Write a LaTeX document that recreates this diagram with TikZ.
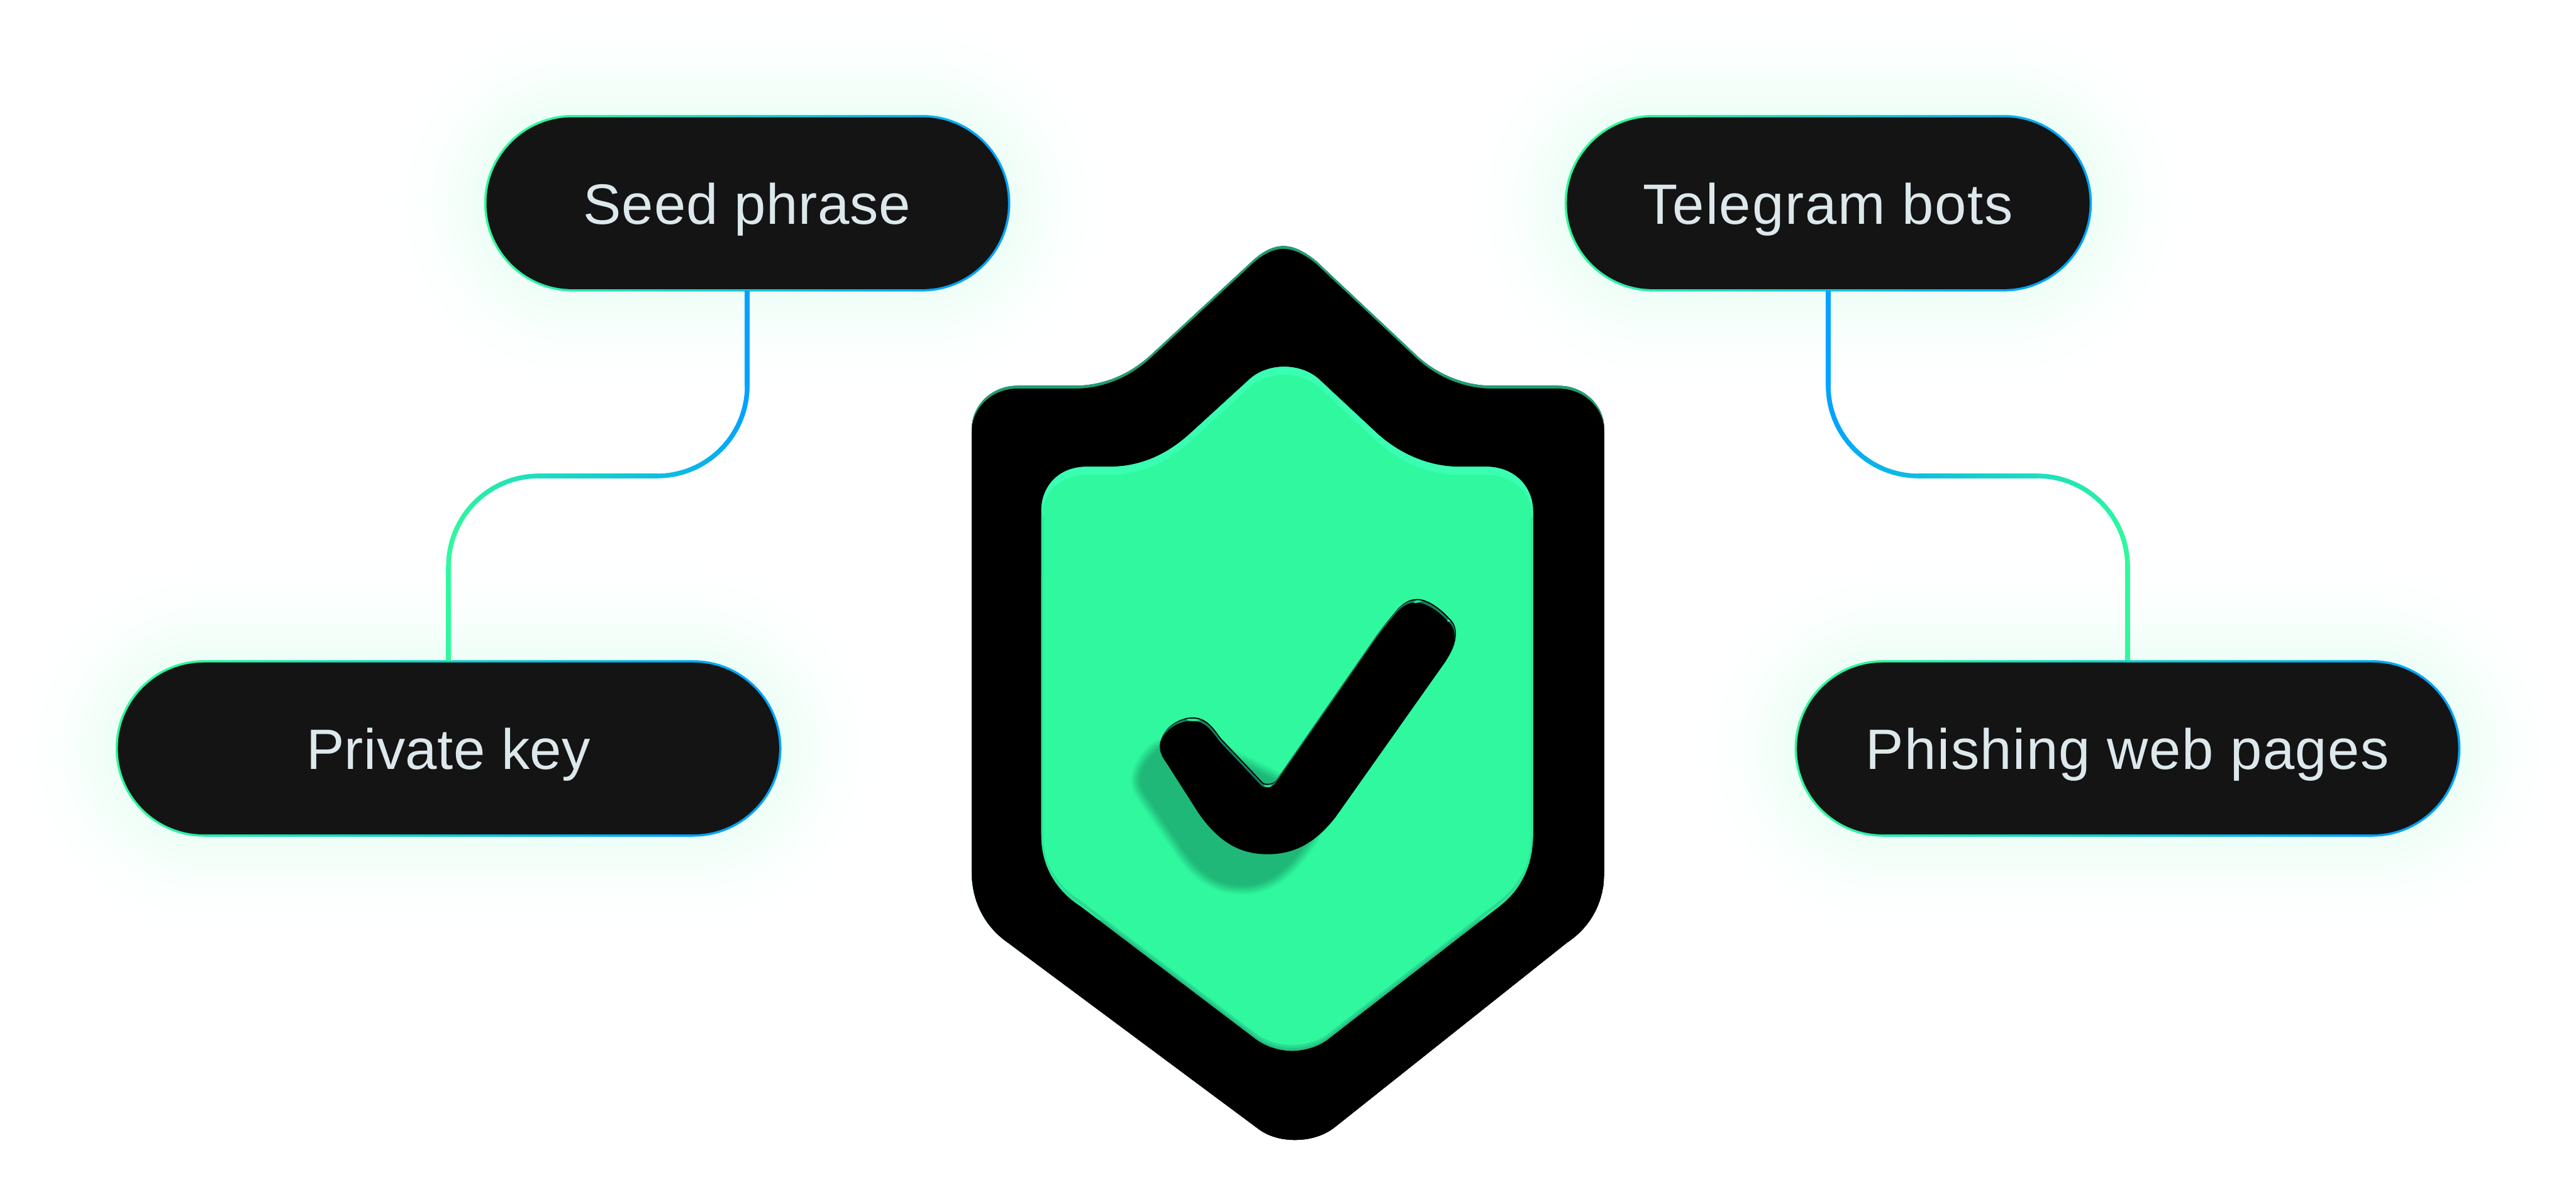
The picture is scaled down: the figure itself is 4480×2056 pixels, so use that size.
\documentclass[tikz,border=0pt]{standalone}
\usepackage{fontspec}
\setmainfont{Liberation Sans}
\newfontfamily\seedface[LetterSpace=0.9]{Liberation Sans}
\newfontfamily\teleface[LetterSpace=2.0]{Liberation Sans}
\newfontfamily\keyface[LetterSpace=0.5]{Liberation Sans}
\newfontfamily\phishface[LetterSpace=1.6]{Liberation Sans}
\usetikzlibrary{shapes.misc,decorations.markings,calc}
\definecolor{mint}{HTML}{2FF89E}
\definecolor{mintlight}{HTML}{3AFFB2}
\definecolor{mintdark}{HTML}{25C487}
\definecolor{rim}{HTML}{1E9E78}
\definecolor{checkrim}{HTML}{128064}
\definecolor{sky}{HTML}{00A3FF}
\definecolor{pillfill}{HTML}{141414}
\definecolor{labelink}{HTML}{DDE8EC}
\definecolor{shadowgreen}{HTML}{1FB878}
\def\outerpath{(1690,746) .. controls (1690,705) and (1725,671) .. (1769,671) -- (1868,671) .. controls (1920,671) and (1965,651) .. (2002,617) -- (2178,454) .. controls (2193,440) and (2212,428) .. (2232,428) .. controls (2252,428) and (2272,440) .. (2289,454) -- (2457,612) .. controls (2495,650) and (2545,671) .. (2595,671) -- (2710,671) .. controls (2755,671) and (2790,705) .. (2790,746) -- (2790,1517) .. controls (2790,1565) and (2770,1610) .. (2725,1640) -- (2320,1962) .. controls (2300,1977) and (2276,1983) .. (2252,1983) .. controls (2228,1983) and (2205,1977) .. (2186,1962) -- (1753,1640) .. controls (1710,1610) and (1690,1565) .. (1690,1517) -- cycle}
\def\innerpath{(1811,889) .. controls (1811,845) and (1842,812) .. (1890,812) -- (1929,812) .. controls (1985,812) and (2030,790) .. (2069,755) -- (2174,659) .. controls (2190,645) and (2212,638) .. (2233,638) .. controls (2255,638) and (2277,645) .. (2293,659) -- (2396,755) .. controls (2435,790) and (2485,812) .. (2538,812) -- (2585,812) .. controls (2632,812) and (2666,845) .. (2666,889) -- (2666,1454) .. controls (2666,1505) and (2645,1548) .. (2607,1577) -- (2312,1806) .. controls (2295,1820) and (2270,1828) .. (2247,1828) .. controls (2224,1828) and (2200,1820) .. (2182,1806) -- (1880,1577) .. controls (1835,1548) and (1811,1505) .. (1811,1454) -- cycle}
\def\checkpath{(2074,1248) .. controls (2048,1248) and (2018,1270) .. (2018,1296) .. controls (2018,1312) and (2028,1322) .. (2034,1332) -- (2085,1412) .. controls (2125,1470) and (2165,1484) .. (2206,1484) .. controls (2245,1484) and (2285,1470) .. (2324,1419) -- (2514,1150) .. controls (2524,1134) and (2532,1120) .. (2532,1103) .. controls (2532,1090) and (2528,1082) .. (2520,1075) .. controls (2505,1058) and (2482,1042) .. (2465,1042) .. controls (2450,1042) and (2440,1050) .. (2431,1059) .. controls (2420,1072) and (2405,1090) .. (2391,1110) -- (2219,1358) .. controls (2214,1364) and (2200,1366) .. (2195,1360) -- (2123,1284) .. controls (2110,1266) and (2098,1248) .. (2074,1248) -- cycle}
\def\shadowpath{(2035,1296) -- (2015,1305) .. controls (1995,1322) and (1983,1342) .. (1984,1360) .. controls (1986,1374) and (1995,1384) .. (2001,1393) -- (2054,1470) .. controls (2088,1524) and (2125,1539) .. (2160,1539) .. controls (2208,1539) and (2240,1510) .. (2276,1458) -- (2300,1400) -- (2100,1300) -- cycle}
\tikzset{
  x=1pt,y=-1pt,
  pilledge/.style={shape=rounded rectangle,inner sep=0pt,outer sep=0pt,
    minimum height=307pt,left color=mint,right color=sky,shading angle=72},
  pillbody/.style={shape=rounded rectangle,inner sep=0pt,outer sep=0pt,
    minimum height=299pt,fill=pillfill,text=labelink,
    text height=72pt,text depth=0pt},
  gradline/.style={line width=7pt,draw=sky!50!mint,
    postaction={decorate,decoration={markings,
      mark=between positions 0 and 1 step 2pt with {%
        \pgfmathsetmacro\gp{100*max(0,min(1,(\pgfkeysvalueof{/pgf/decoration/mark info/distance from start}-220)/(\pgfdecoratedpathlength-440)))}%
        \colorlet{gc}{mint!\gp!sky}%
        \fill[gc,sharp corners] (-1.5,-4) rectangle (1.5,4);}}}},
}
\newcommand{\pillglow}[4]{% centre x, centre y, half straight length, half height
  \foreach \e in {190,185,...,0}{
    \pgfmathsetmacro\gw{2*(#4+\e)}
    \pgfmathsetmacro\gq{8.5*(1-\e/190)*(1-\e/190)}
    \draw[line cap=round,line width=\gw pt,mint!\gq!white] (#1-#3,#2) -- (#1+#3,#2);
  }}
\begin{document}
\begin{tikzpicture}
\useasboundingbox (0,0) rectangle (4480,2056);
\fill[white] (0,0) rectangle (4480,2056);
% glows
\pillglow{1299.5}{353.5}{304}{153}
\pillglow{3179.5}{353.5}{305}{153}
\pillglow{780}{1302}{426}{153}
\pillglow{3700}{1302}{426}{153}
% pills
\node[pilledge,minimum width=915pt] (seedEdge) at (1299.5,353.5) {};
\node[pillbody,minimum width=907pt] (seed) at (seedEdge.center) {\seedface\fontsize{99}{110}\selectfont Seed phrase};
\node[pilledge,minimum width=917pt] (teleEdge) at (3179.5,353.5) {};
\node[pillbody,minimum width=909pt] (tele) at (teleEdge.center) {\teleface\fontsize{99}{110}\selectfont Telegram bots};
\node[pilledge,minimum width=1158pt] (keyEdge) at (780,1302) {};
\node[pillbody,minimum width=1150pt] (key) at (keyEdge.center) {\keyface\fontsize{99}{110}\selectfont Private key};
\node[pilledge,minimum width=1158pt] (phishEdge) at (3700,1302) {};
\node[pillbody,minimum width=1150pt] (phish) at (phishEdge.center) {\phishface\fontsize{99}{110}\selectfont Phishing web pages};
% connectors
\coordinate (midA) at (1040,828);
\coordinate (midB) at (3440,828);
\draw[gradline,rounded corners=157pt] (seedEdge.south) -- (seedEdge.south |- midA) -- (keyEdge.north |- midA) -- (keyEdge.north);
\draw[gradline,rounded corners=157pt] (teleEdge.south) -- (teleEdge.south |- midB) -- (phishEdge.north |- midB) -- (phishEdge.north);
% outer shield
\fill[black] \outerpath;
\begin{scope}
  \clip \outerpath;
  \fill[rim] \outerpath;
  \fill[black,shift={(0,2)}] \outerpath;
  \begin{scope}
    \clip[shift={(0,1)}] \outerpath;
    \fill[rim] \outerpath;
    \fill[black,shift={(0,5)}] \outerpath;
  \end{scope}
\end{scope}
% inner shield
\begin{scope}
  \clip \innerpath;
  \fill[mintdark] \innerpath;
  \fill[mintdark!55!mint,shift={(0,-5)}] \innerpath;
  \begin{scope}
    \clip[shift={(0,-10)}] \innerpath;
    \fill[mintlight] (1700,600) rectangle (2800,1900);
    \fill[mint,shift={(0,14)}] \innerpath;
    \fill[mint] (1700,1000) rectangle (2800,1900);
  \end{scope}
  \begin{scope}
    \clip (1700,900) rectangle (2800,1600);
    \draw[mintdark!35!mint,line width=7pt] \innerpath;
  \end{scope}
\end{scope}
% check shadow
\foreach \w/\m in {36/5,33/13,30/22,27/31,24/40,21/49,18/58,15/67,12/75,9/83,6/90,3/96,0/100}{
  \fill[shadowgreen!\m!mint,draw=shadowgreen!\m!mint,line width=\w pt,line join=round] \shadowpath;
}
% check
\fill[black] \checkpath;
\begin{scope}
  \clip[shift={(-1,2)}] \checkpath;
  \fill[checkrim] \checkpath;
  \fill[black,shift={(-2,6)}] \checkpath;
  \fill[mint!80!checkrim] (2076,1252) ellipse [x radius=12,y radius=2.6];
  \fill[mint!80!checkrim] (2205,1366) ellipse [x radius=7,y radius=3.5];
  \fill[mint!80!checkrim,rotate around={40:(2521,1078)}] (2521,1078) ellipse [x radius=5,y radius=2.5];
  \fill[mint!80!checkrim,rotate around={20:(2468,1045)}] (2468,1045) ellipse [x radius=10,y radius=2.5];
\end{scope}
\end{tikzpicture}
\end{document}
